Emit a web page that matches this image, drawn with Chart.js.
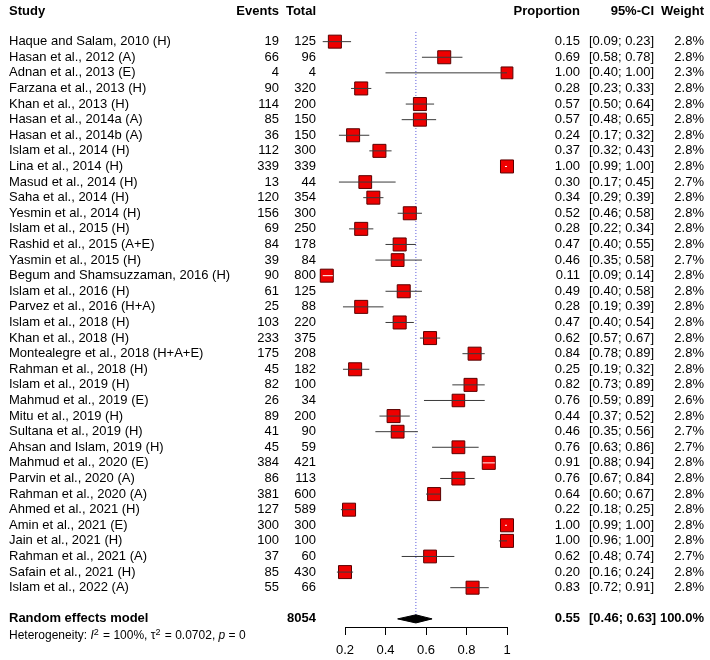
<!DOCTYPE html>
<html>
<head>
<meta charset="utf-8">
<script src="https://cdn.jsdelivr.net/npm/chart.js@4.4.1/dist/chart.umd.min.js"></script>
<style>
  body { margin: 0; background: #fff; }
</style>
</head>
<body>
<canvas id="forest" width="710" height="660"></canvas>
<script>
// study data
const studies = [
  'Haque and Salam, 2010 (H)', 'Hasan et al., 2012 (A)', 'Adnan et al., 2013 (E)',
  'Farzana et al., 2013 (H)', 'Khan et al., 2013 (H)', 'Hasan et al., 2014a (A)',
  'Hasan et al., 2014b (A)', 'Islam et al., 2014 (H)', 'Lina et al., 2014 (H)',
  'Masud et al., 2014 (H)', 'Saha et al., 2014 (H)', 'Yesmin et al., 2014 (H)',
  'Islam et al., 2015 (H)', 'Rashid et al., 2015 (A+E)', 'Yasmin et al., 2015 (H)',
  'Begum and Shamsuzzaman, 2016 (H)', 'Islam et al., 2016 (H)', 'Parvez et al., 2016 (H+A)',
  'Islam et al., 2018 (H)', 'Khan et al., 2018 (H)', 'Montealegre et al., 2018 (H+A+E)',
  'Rahman et al., 2018 (H)', 'Islam et al., 2019 (H)', 'Mahmud et al., 2019 (E)',
  'Mitu et al., 2019 (H)', 'Sultana et al., 2019 (H)', 'Ahsan and Islam, 2019 (H)',
  'Mahmud et al., 2020 (E)', 'Parvin et al., 2020 (A)', 'Rahman et al., 2020 (A)',
  'Ahmed et al., 2021 (H)', 'Amin et al., 2021 (E)', 'Jain et al., 2021 (H)',
  'Rahman et al., 2021 (A)', 'Safain et al., 2021 (H)', 'Islam et al., 2022 (A)'
];
const events = [19, 66, 4, 90, 114, 85, 36, 112, 339, 13, 120, 156, 69, 84, 39, 90, 61, 25,
  103, 233, 175, 45, 82, 26, 89, 41, 45, 384, 86, 381, 127, 300, 100, 37, 85, 55];
const totals = [125, 96, 4, 320, 200, 150, 150, 300, 339, 44, 354, 300, 250, 178, 84, 800, 125, 88,
  220, 375, 208, 182, 100, 34, 200, 90, 59, 421, 113, 600, 589, 300, 100, 60, 430, 66];
const proportion = [0.15, 0.69, 1.00, 0.28, 0.57, 0.57, 0.24, 0.37, 1.00, 0.30, 0.34, 0.52,
  0.28, 0.47, 0.46, 0.11, 0.49, 0.28, 0.47, 0.62, 0.84, 0.25, 0.82, 0.76, 0.44, 0.46, 0.76,
  0.91, 0.76, 0.64, 0.22, 1.00, 1.00, 0.62, 0.20, 0.83];
const ciLow = [0.09, 0.58, 0.40, 0.23, 0.50, 0.48, 0.17, 0.32, 0.99, 0.17, 0.29, 0.46,
  0.22, 0.40, 0.35, 0.09, 0.40, 0.19, 0.40, 0.57, 0.78, 0.19, 0.73, 0.59, 0.37, 0.35, 0.63,
  0.88, 0.67, 0.60, 0.18, 0.99, 0.96, 0.48, 0.16, 0.72];
const ciHigh = [0.23, 0.78, 1.00, 0.33, 0.64, 0.65, 0.32, 0.43, 1.00, 0.45, 0.39, 0.58,
  0.34, 0.55, 0.58, 0.14, 0.58, 0.39, 0.54, 0.67, 0.89, 0.32, 0.89, 0.89, 0.52, 0.56, 0.86,
  0.94, 0.84, 0.67, 0.25, 1.00, 1.00, 0.74, 0.24, 0.91];
const weights = [2.8, 2.8, 2.3, 2.8, 2.8, 2.8, 2.8, 2.8, 2.8, 2.7, 2.8, 2.8, 2.8, 2.8, 2.7,
  2.8, 2.8, 2.8, 2.8, 2.8, 2.8, 2.8, 2.8, 2.6, 2.8, 2.7, 2.7, 2.8, 2.8, 2.8, 2.8, 2.8, 2.8,
  2.7, 2.8, 2.8];

// random effects summary
const pooledTotal = 8054;
const pooled = 0.55;
const pooledLow = 0.46;
const pooledHigh = 0.63;
const xTicks = [0.2, 0.4, 0.6, 0.8, 1];

const nStudy = studies.length;
const pooledRow = nStudy + 1;
const hetRow = pooledRow + 1.1;
const headerRow = -1.95;
const squareHalf = 6.5;   // px, half side of a study square
const diamondHalf = 0.26; // rows

const FONT = "'Liberation Sans', Arial, sans-serif";

// CI segments, one gap between studies
let ciData = [];
for (let i = 0; i < nStudy; i++) {
  ciData.push({x: ciLow[i], y: i});
  ciData.push({x: ciHigh[i], y: i});
  ciData.push({x: ciHigh[i], y: null});
}

let squareData = proportion.map((p, i) => ({x: p, y: i}));

let diamondData = [
  {x: pooledLow, y: pooledRow},
  {x: pooled, y: pooledRow - diamondHalf},
  {x: pooledHigh, y: pooledRow},
  {x: pooled, y: pooledRow + diamondHalf},
  {x: pooledLow, y: pooledRow}
];

let vlineData = [{x: pooled, y: -0.62}, {x: pooled, y: pooledRow}];

function fmtCI(lo, hi) {
  return '[' + lo.toFixed(2) + '; ' + hi.toFixed(2) + ']';
}

const textPlugin = {
  id: 'forestText',
  afterDraw(chart) {
    const ctx = chart.ctx;
    const yS = chart.scales.y;
    const xS = chart.scales.x;
    ctx.save();
    ctx.fillStyle = '#000';
    ctx.textBaseline = 'middle';

    function put(s, x, row, align, bold, size) {
      ctx.font = (bold ? 'bold ' : '') + (size || 13) + 'px ' + FONT;
      ctx.textAlign = align;
      ctx.fillText(s, x, yS.getPixelForValue(row));
    }

    // header
    put('Study', 9, headerRow, 'left', true);
    put('Events', 279, headerRow, 'right', true);
    put('Total', 316, headerRow, 'right', true);
    put('Proportion', 580, headerRow, 'right', true);
    put('95%-CI', 654, headerRow, 'right', true);
    put('Weight', 704, headerRow, 'right', true);

    for (let i = 0; i < nStudy; i++) {
      put(studies[i], 9, i, 'left');
      put(String(events[i]), 279, i, 'right');
      put(String(totals[i]), 316, i, 'right');
      put(proportion[i].toFixed(2), 580, i, 'right');
      put(fmtCI(ciLow[i], ciHigh[i]), 589, i, 'left');
      put(weights[i].toFixed(1) + '%', 704, i, 'right');
    }

    put('Random effects model', 9, pooledRow, 'left', true);
    put(String(pooledTotal), 316, pooledRow, 'right', true);
    put(pooled.toFixed(2), 580, pooledRow, 'right', true);
    put(fmtCI(pooledLow, pooledHigh), 589, pooledRow, 'left', true);
    put('100.0%', 704, pooledRow, 'right', true);

    // heterogeneity line with italics and superscripts
    const hy = yS.getPixelForValue(hetRow);
    let hx = 9;
    ctx.textAlign = 'left';
    const parts = [
      ['Heterogeneity: ', '', 0], ['I', 'italic ', 0], ['2', '', 1],
      [' = 100%, ', '', 0], ['\u03c4', '', 0], ['2', '', 1],
      [' = 0.0702, ', '', 0], ['p', 'italic ', 0], [' = 0', '', 0]
    ];
    parts.forEach(p => {
      const sup = p[2] === 1;
      ctx.font = p[1] + (sup ? 9 : 12) + 'px ' + FONT;
      ctx.fillText(p[0], hx, sup ? hy - 4 : hy);
      hx += ctx.measureText(p[0]).width + (sup ? 1 : 0);
    });

    // axis line only between first and last tick
    const by = chart.chartArea.bottom + 0.5;
    ctx.strokeStyle = '#000';
    ctx.lineWidth = 1;
    ctx.beginPath();
    ctx.moveTo(xS.getPixelForValue(xTicks[0]), by);
    ctx.lineTo(xS.getPixelForValue(xTicks[xTicks.length - 1]), by);
    ctx.stroke();
    ctx.restore();
  }
};

function insideSquare(i, xS) {
  const px = xS.getPixelForValue(proportion[i]);
  return px - xS.getPixelForValue(ciLow[i]) < squareHalf &&
         xS.getPixelForValue(ciHigh[i]) - px < squareHalf;
}

const chart = new Chart(document.getElementById('forest').getContext('2d'), {
  type: 'scatter',
  data: {
    datasets: [
      {
        type: 'line',
        data: vlineData,
        borderColor: 'rgb(90,90,220)',
        borderWidth: 1,
        borderDash: [1, 2],
        pointRadius: 0,
        order: 5
      },
      {
        type: 'scatter',
        data: squareData,
        pointStyle: 'rect',
        pointRadius: ctx => 9.2 * Math.sqrt(weights[ctx.dataIndex] / 2.8),
        backgroundColor: '#ee0000',
        borderColor: '#5a0000',
        borderWidth: 1,
        order: 2
      },
      {
        type: 'line',
        data: ciData,
        borderWidth: 1,
        pointRadius: 0,
        spanGaps: false,
        segment: {
          borderColor: ctx => insideSquare(Math.floor(ctx.p0DataIndex / 3), ctx.chart.scales.x) ? '#ffffff' : '#3a3a3a'
        },
        order: 1
      },
      {
        type: 'line',
        data: diamondData,
        borderColor: '#000',
        backgroundColor: '#000',
        borderWidth: 1,
        pointRadius: 0,
        fill: 'shape',
        order: 0
      }
    ]
  },
  options: {
    responsive: false,
    animation: false,
    layout: { autoPadding: false, padding: { left: 315, right: 193, top: 0, bottom: 0 } },
    plugins: {
      legend: { display: false },
      tooltip: { enabled: false }
    },
    scales: {
      x: {
        type: 'linear',
        min: 0.05185,
        max: 1.04938,
        border: { display: false },
        grid: { drawOnChartArea: false, drawTicks: true, tickLength: 8, tickColor: '#000' },
        ticks: {
          color: '#000',
          font: { size: 13, family: FONT },
          padding: 8,
          callback: v => (v === 1 ? '1' : v.toFixed(1))
        },
        afterBuildTicks: scale => { scale.ticks = xTicks.map(v => ({value: v})); },
        afterFit: scale => { scale.height = 33; }
      },
      y: {
        type: 'linear',
        display: false,
        reverse: true,
        min: -2.67,
        max: 37.52
      }
    }
  },
  plugins: [textPlugin]
});
</script>
</body>
</html>
